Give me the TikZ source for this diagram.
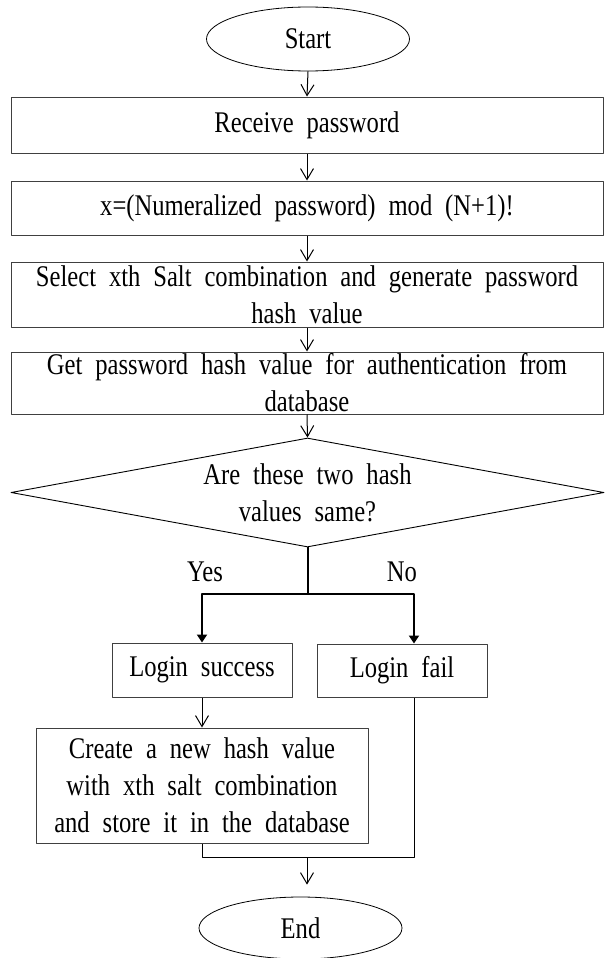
\documentclass[tikz,border=0pt]{standalone}
\usepackage{fontspec}
\setmainfont{Liberation Serif}[FakeStretch=0.82,WordSpace=2.1]
\usetikzlibrary{shapes.geometric,arrows.meta}
\begin{document}
\begin{tikzpicture}[x=1pt, y=-1pt, font=\fontsize{30}{37}\selectfont, line join=round, >={Straight Barb[length=11pt,width=13pt]},
		box/.style={draw=black!75, line width=1pt, rectangle, inner sep=0pt, align=center},
		term/.style={draw, line width=0.8pt, ellipse, inner sep=0pt, minimum width=203pt, minimum height=64pt},
		flow/.style={->, line width=1pt},
		branch/.style={line width=2pt, -{Triangle[length=8pt,width=10pt]}}]
			\def\wide{592pt}
			\useasboundingbox (0,0) rectangle (605,958);
			\node[term] (start) at (308,39) {Start};
			\node[box, minimum width=\wide, minimum height=56pt] (recv) at (307,125) {Receive password};
			\node[box, minimum width=\wide, minimum height=54pt] (xmod) at (307,208) {x=(Numeralized password) mod (N+1)!};
			\node[box, minimum width=\wide, minimum height=65pt] (sel) at (307,294.5) {Select xth Salt combination and generate password\\hash value};
			\node[box, minimum width=\wide, minimum height=62pt] (get) at (307,383) {Get password hash value for authentication from\\database};
			\node[draw, line width=0.9pt, diamond, aspect=5.44, inner sep=0pt, minimum width=593pt, minimum height=109pt, align=center] (dec) at (307.5,492.5) {Are these two hash\\values same?};
			\node (yes) at (205,572) {Yes};
			\node (no) at (402,572) {No};
			\node[box, minimum width=180pt, minimum height=54pt] (ok) at (202,670) {Login success};
			\node[box, minimum width=170pt, minimum height=53pt] (fail) at (402,670.5) {Login fail};
			\node[box, minimum width=332pt, minimum height=115pt] (new) at (202,785.5) {Create a new hash value\\with xth salt combination\\and store it in the database};
			\node[term, minimum height=62pt] (stop) at (300.5,928) {End};
			\foreach \a/\b in {start/recv, recv/xmod, xmod/sel, sel/get, get/dec, ok/new} \draw[flow] (\a.south) -- (\b.north);
			% yes / no split
			\draw[line width=2pt] (dec.south) -- ++(0,47) coordinate (split);
			\draw[branch] (split) -| (ok.north);
			\draw[branch] (split) -| ([xshift=12pt]fail.north);
			% join to end
			\coordinate (join) at (307,857);
			\draw[line width=1pt] (new.south) |- (join) -| ([xshift=12pt]fail.south);
			\draw[flow, shorten >=12pt] (join) -- (join |- stop.north);
		\end{tikzpicture}
\end{document}
